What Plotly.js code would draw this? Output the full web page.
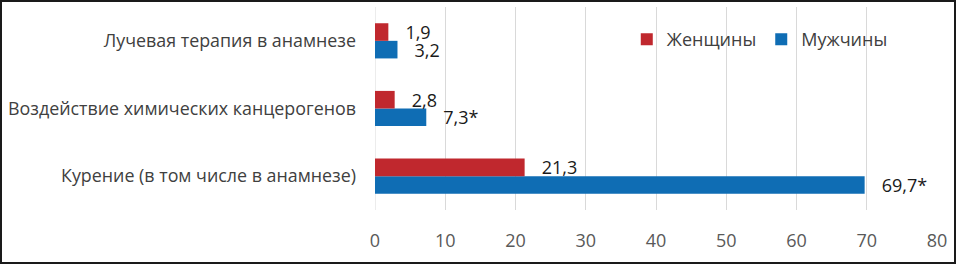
<!DOCTYPE html>
<html>
<head>
<meta charset="utf-8">
<script src="https://cdn.plot.ly/plotly-3.0.1.min.js"></script>
<style>
html,body{margin:0;padding:0;background:#fff;}
#wrap{position:relative;width:956px;height:264px;}
#chart{width:956px;height:264px;}
#frame{position:absolute;left:0;top:0;width:956px;height:264px;box-sizing:border-box;border:2px solid #1a1a1a;pointer-events:none;}
</style>
</head>
<body>
<div id="wrap"><div id="chart"></div><div id="frame"></div></div>
<script>
const categories = ["Курение (в том числе в анамнезе)", "Воздействие химических канцерогенов", "Лучевая терапия в анамнезе"];
const women = [21.3, 2.8, 1.9];
const men = [69.7, 7.3, 3.2];
const womenLabels = ["21,3", "2,8", "1,9"];
const menLabels = ["69,7*", "7,3*", "3,2"];
const xTicks = [0, 10, 20, 30, 40, 50, 60, 70, 80];

const pad = "\u00A0\u00A0\u00A0";
const font = "Open Sans, sans-serif";

const traces = [
  {
    type: "bar", orientation: "h", name: "Мужчины",
    y: categories, x: men,
    text: menLabels.map(t => pad + t), textposition: "outside", constraintext: "none",
    textfont: {family: font, size: 18, color: "#1a1a1a"},
    marker: {color: "#0f6db4"}, cliponaxis: false, hoverinfo: "skip"
  },
  {
    type: "bar", orientation: "h", name: "Женщины",
    y: categories, x: women,
    text: womenLabels.map(t => pad + t), textposition: "outside", constraintext: "none",
    textfont: {family: font, size: 18, color: "#1a1a1a"},
    marker: {color: "#c0282e"}, cliponaxis: false, hoverinfo: "skip"
  }
];

const layout = {
  width: 956, height: 264,
  margin: {l: 375, r: 19, t: 7, b: 54},
  paper_bgcolor: "#fff", plot_bgcolor: "#fff",
  barmode: "group", bargap: 0.48, bargroupgap: 0,
  showlegend: true,
  legend: {
    orientation: "h", traceorder: "reversed",
    x: 0.448, xanchor: "left", y: 0.84, yanchor: "middle",
    font: {family: font, size: 18, color: "#404040"},
    bgcolor: "rgba(255,255,255,0)", itemwidth: 30
  },
  xaxis: {
    range: [0, 80], tickvals: xTicks, ticktext: xTicks.map(String),
    showgrid: true, gridcolor: "#d9d9d9", gridwidth: 1,
    zeroline: false, showline: false, ticks: "",
    ticklabelstandoff: 18,
    tickfont: {family: font, size: 18, color: "#595959"}
  },
  yaxis: {
    type: "category", showgrid: false, zeroline: false, showline: false,
    ticks: "", ticklabelstandoff: 18,
    tickfont: {family: font, size: 17.85, color: "#404040"}
  },
  shapes: [{type: "line", xref: "x", yref: "paper", x0: 0, x1: 0, y0: 0, y1: 1, line: {color: "#d9d9d9", width: 1}, layer: "below"}]
};

Plotly.newPlot("chart", traces, layout, {displayModeBar: false, staticPlot: true});
</script>
</body>
</html>
